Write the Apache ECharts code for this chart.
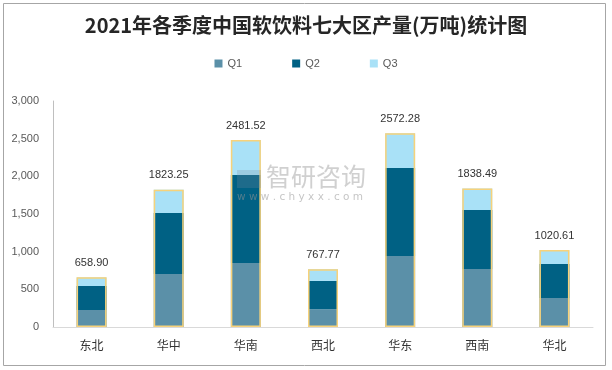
<!DOCTYPE html>
<html><head><meta charset="utf-8">
<script src="https://cdn.jsdelivr.net/npm/echarts@6/dist/echarts.min.js"></script>
<style>html,body{margin:0;padding:0;background:#fff}#c{width:612px;height:370px}</style>
</head><body><div id="c"></div>
<script>
const categories = ['东北','华中','华南','西北','华东','西南','华北'];
const q1 = [226, 704, 850, 235, 942, 770, 385];
const q2 = [318, 809, 1168, 376, 1169, 783, 451];
const totals = [658.90, 1823.25, 2481.52, 767.77, 2572.28, 1838.49, 1020.61];
const q3 = totals.map((t,i)=>+(t - q1[i] - q2[i]).toFixed(2));
const yTicks = [0, 500, 1000, 1500, 2000, 2500, 3000];

const chart = echarts.init(document.getElementById('c'));
const barW = 30;
chart.setOption({
  animation:false,
  title:{text:'2021年各季度中国软饮料七大区产量(万吨)统计图',left:'center',top:10,
    textStyle:{fontFamily:'Noto Sans CJK SC',fontSize:20,fontWeight:'bold',color:'#262626'}},
  legend:{data:['Q1','Q2','Q3'],top:53,left:'center',itemWidth:8,itemHeight:8,itemGap:50,icon:'rect',
    textStyle:{fontSize:11,color:'#595959',fontFamily:'Liberation Sans'}},
  graphic:[
    {type:'rect',shape:{x:3.5,y:3.5,width:602,height:362},style:{fill:'none',stroke:'#a6a6a6',lineWidth:1},silent:true},
    {type:'rect',shape:{x:237,y:170,width:24,height:18},style:{fill:'rgba(120,140,160,0.25)'},z:100,silent:true},
    {type:'text',left:266,top:164,style:{text:'智研咨询',fontSize:25,fontFamily:'Noto Sans CJK SC',fill:'rgba(170,170,170,0.55)'},z:100,silent:true},
    {type:'text',left:237,top:192,style:{text:'w w w . c h y x x . c o m',fontSize:10.5,fontFamily:'DejaVu Sans',fill:'rgba(150,150,150,0.55)'},z:100,silent:true}
  ],
  grid:{left:53,right:19,top:101,bottom:43},
  xAxis:{type:'category',data:categories,axisTick:{show:false},
    axisLine:{lineStyle:{color:'#d9d9d9'}},
    axisLabel:{fontSize:12,color:'#333',margin:12,fontFamily:'Noto Sans CJK SC'}},
  yAxis:{type:'value',min:0,max:3000,interval:500,
    axisLine:{show:true,lineStyle:{color:'#bfbfbf'}},axisTick:{show:false},splitLine:{show:false},
    axisLabel:{fontSize:11,color:'#595959',margin:14,fontFamily:'Liberation Sans',
      formatter:v=>v.toLocaleString('en-US')}},
  series:[
    {name:'Q1',type:'bar',stack:'s',barWidth:barW,data:q1,itemStyle:{color:'#5b90a8'}},
    {name:'Q2',type:'bar',stack:'s',barWidth:barW,data:q2,itemStyle:{color:'#006184'}},
    {name:'Q3',type:'bar',stack:'s',barWidth:barW,data:q3,itemStyle:{color:'#a9e1f7'}},
    {name:'total',type:'bar',barWidth:barW,barGap:'-100%',data:totals,z:5,
      itemStyle:{color:'rgba(0,0,0,0)',borderColor:'#f7d27a',borderWidth:1.5},
      label:{show:true,position:'top',distance:9,fontSize:11,color:'#333',fontFamily:'Liberation Sans',
        formatter:p=>p.value.toFixed(2)}}
  ]
});
</script></body></html>
